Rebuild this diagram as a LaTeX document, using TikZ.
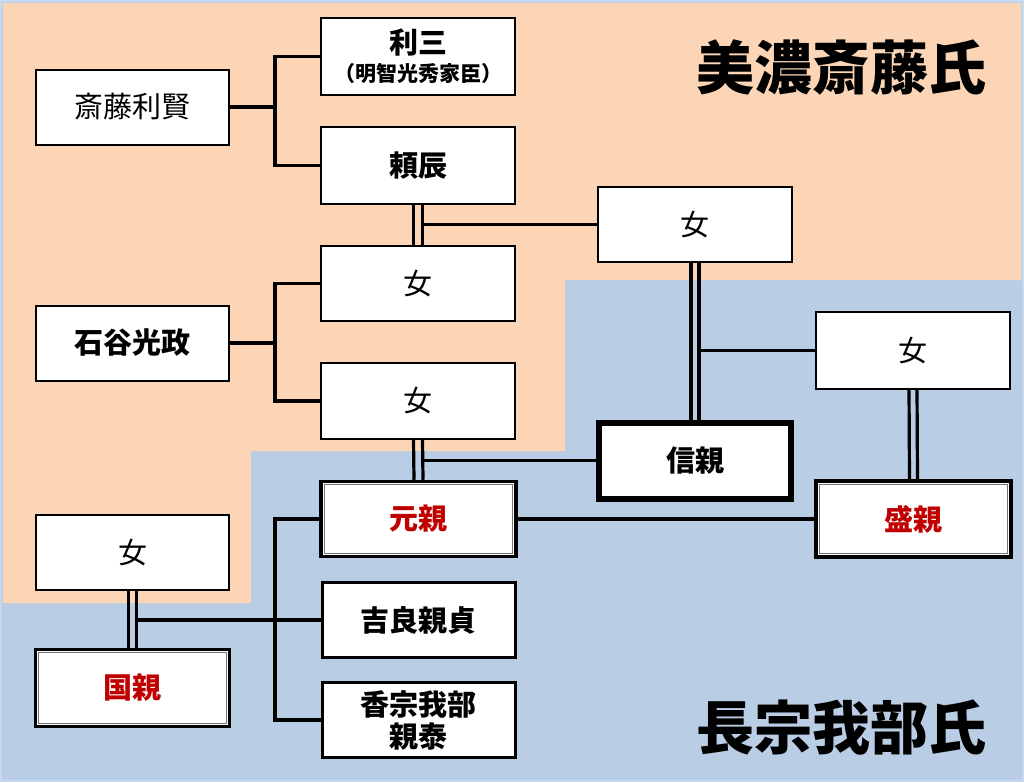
\documentclass[tikz,border=0pt]{standalone}
\usepackage{fontspec}
\setmainfont{Noto Sans CJK JP}
\definecolor{bluebg}{HTML}{B9CDE5}
\definecolor{orangebg}{HTML}{FBD5B5}
\definecolor{namered}{HTML}{C00000}
\definecolor{frameblue}{HTML}{C6D9F1}
\tikzset{
  box/.style={draw=black, fill=white, inner sep=0pt, align=center,
    minimum width=194pt, minimum height=76pt, font=\fontsize{29}{33}\selectfont},
  plainbox/.style={box, line width=1.2pt},
  midbox/.style={box, line width=2pt, font=\fontsize{29}{33}\selectfont\bfseries},
  strongbox/.style={box, line width=3pt, font=\fontsize{29}{33}\selectfont\bfseries},
  heavybox/.style={box, line width=6pt, font=\fontsize{29}{33}\selectfont\bfseries},
  dblbox/.style={box, line width=3.5pt, text=namered, font=\fontsize{29}{33}\selectfont\bfseries},
  innerline/.style={draw=black!55, line width=0.9pt},
  link/.style={draw=black, line width=3.2pt},
  title/.style={font=\fontsize{58}{60}\selectfont\bfseries, inner sep=0pt}
}
\begin{document}
\begin{tikzpicture}[x=1pt,y=-1pt]
\useasboundingbox (0,0) rectangle (1024,782);
\fill[bluebg] (0,0) rectangle (1024,782);
\fill[orangebg] (3,3) -- (1021,3) -- (1021,280) -- (565,280) -- (565,451)
  -- (251,451) -- (251,603) -- (3,603) -- cycle;
\draw[frameblue, line width=1.5pt] (1,1) rectangle (1023,781);

% titles
\node[title] (tmino) at (841,67) {美濃斎藤氏};
\node[title] (ttosa) at (841,728) {長宗我部氏};

% boxes
\node[plainbox, line width=2pt, minimum width=193pt, minimum height=75pt] (sai) at (132.5,107) {斎藤利賢};
\node[midbox, minimum height=77pt] (toshizo) at (418,56.5) {利三\\[-5pt]{\fontsize{21}{23}\selectfont（明智光秀家臣）}};
\node[midbox, minimum height=77pt] (yori) at (418,165.5) {頼辰};
\node[plainbox, minimum height=75pt] (onnaTR) at (695,224.5) {女};
\node[plainbox, minimum height=75pt] (onnaA) at (418,283.5) {女};
\node[plainbox] (onnaB) at (418,401) {女};
\node[midbox, minimum width=193pt, minimum height=75pt] (ishi) at (132.5,343) {石谷光政};
\node[plainbox, minimum height=77pt] (onnaR) at (913,350.5) {女};
\node[heavybox, minimum width=192pt, minimum height=76pt] (nobu) at (695,460.5) {信親};
\node[dblbox, minimum width=195pt, minimum height=75pt] (moto) at (418.5,519) {元親};
\node[dblbox, minimum width=195pt, minimum height=76pt] (mori) at (913.5,519) {盛親};
\node[strongbox, minimum width=193pt, minimum height=75pt] (kira) at (418.5,620) {吉良親貞};
\node[strongbox, minimum width=193pt, minimum height=75pt] (kaso) at (418.5,720) {香宗我部\\[-1pt]親泰};
\node[plainbox, minimum width=193pt, minimum height=75pt] (onnaBL) at (132.5,552.5) {女};
\node[dblbox, minimum width=194pt, minimum height=77pt] (kuni) at (132.5,688) {国親};

% inner lines of double boxes
\foreach \n in {moto,mori,kuni}{
  \draw[innerline] ([shift={(5pt,-5pt)}]\n.north west) rectangle ([shift={(-5pt,5pt)}]\n.south east);
}

% brackets
\coordinate (j1) at (275,107);
\draw[link] (sai.east) -- (j1);
\draw[link] (toshizo.west) -| (j1) |- (yori.west);
\coordinate (j2) at (275,343);
\draw[link] (ishi.east) -- (j2);
\draw[link] (onnaA.west) -| (j2) |- (onnaB.west);
\coordinate (j3) at (275,620);
\draw[link] (moto.west) -| (j3) |- (kaso.west);

% marriages (double lines)
\draw[link] ([xshift=-4.5pt]yori.south) -- ([xshift=-4.5pt]onnaA.north);
\draw[link] ([xshift=4.5pt]yori.south) -- ([xshift=4.5pt]onnaA.north);
\draw[link] (onnaTR.west) -- ([xshift=4.5pt]yori.south |- onnaTR.west);

\draw[link] ([xshift=-4pt]onnaTR.south) -- ([xshift=-4pt]nobu.north);
\draw[link] ([xshift=4pt]onnaTR.south) -- ([xshift=4pt]nobu.north);
\draw[link] (onnaR.west) -- ([xshift=4pt]onnaTR.south |- onnaR.west);

\draw[link] ([xshift=-4pt]onnaR.south) -- ([xshift=-4pt]mori.north);
\draw[link] ([xshift=4pt]onnaR.south) -- ([xshift=4pt]mori.north);

\draw[link] ([xshift=-4.5pt]onnaB.south) -- ([xshift=-4.5pt]moto.north);
\draw[link] ([xshift=4.5pt]onnaB.south) -- ([xshift=4.5pt]moto.north);
\draw[link] (nobu.west) -- ([xshift=4.5pt]onnaB.south |- nobu.west);

\draw[link] (moto.east) -- (mori.west);

\draw[link] ([xshift=-4pt]onnaBL.south) -- ([xshift=-4pt]kuni.north);
\draw[link] ([xshift=4pt]onnaBL.south) -- ([xshift=4pt]kuni.north);
\draw[link] (kira.west) -- ([xshift=4pt]onnaBL.south |- kira.west);
\end{tikzpicture}
\end{document}
